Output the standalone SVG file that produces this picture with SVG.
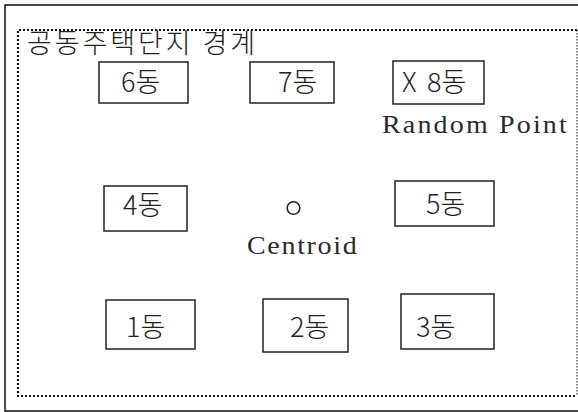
<svg xmlns="http://www.w3.org/2000/svg" width="578" height="412" viewBox="0 0 578 412">
  <style>
    .box { fill: #ffffff; stroke: #222222; stroke-width: 1.5; }
    .lbl { font-family: "Noto Sans CJK KR", "Noto Sans", sans-serif; font-size: 27px; font-weight: 300; fill: #222222; }
    .lat { font-family: "Liberation Serif", "Noto Sans CJK KR", serif; font-size: 25px; fill: #2a2a2a; }
    .frame { fill: none; stroke: #111111; stroke-width: 1.5; }
    .dot { fill: none; stroke: #111111; stroke-width: 2.2; stroke-dasharray: 2 2; }
  </style>
  <rect x="0" y="0" width="578" height="412" fill="#ffffff"/>
  <g id="frame">
    <path class="frame" d="M578,5 H5 V411 H578"/>
  </g>
  <g id="boundary">
    <path class="dot" d="M577,30 H18 V396 H577"/>
    <line x1="577" y1="30" x2="577" y2="396" stroke="#111111" stroke-width="1" stroke-dasharray="1.5 1.5"/>
    <text class="lbl" x="27" y="53" textLength="228" lengthAdjust="spacing">공동주택단지 경계</text>
  </g>
  <g id="b6">
    <rect class="box" x="99" y="62" width="89" height="41"/>
    <text class="lbl" x="121" y="92">6동</text>
  </g>
  <g id="b7">
    <rect class="box" x="250" y="62" width="84" height="41"/>
    <text class="lbl" x="278" y="92">7동</text>
  </g>
  <g id="b8">
    <rect class="box" x="393" y="61" width="91" height="43"/>
    <text class="lbl" y="92"><tspan x="402">X</tspan><tspan x="427">8동</tspan></text>
  </g>
  <g id="randompoint" transform="translate(382,133) scale(1.12,1)">
    <text class="lat" x="0" y="0" textLength="165" lengthAdjust="spacing">Random Point</text>
  </g>
  <g id="b4">
    <rect class="box" x="104" y="186" width="83" height="45"/>
    <text class="lbl" x="123" y="215">4동</text>
  </g>
  <g id="centroid">
    <circle cx="293.5" cy="208" r="6.3" fill="none" stroke="#222222" stroke-width="1.6"/>
    <g transform="translate(247,254) scale(1.12,1)">
      <text class="lat" x="0" y="0" textLength="98" lengthAdjust="spacing">Centroid</text>
    </g>
  </g>
  <g id="b5">
    <rect class="box" x="395" y="181" width="99" height="45"/>
    <text class="lbl" x="426" y="214">5동</text>
  </g>
  <g id="b1">
    <rect class="box" x="106" y="300" width="89" height="49"/>
    <text class="lbl" x="126" y="337">1동</text>
  </g>
  <g id="b2">
    <rect class="box" x="263" y="299" width="85" height="53"/>
    <text class="lbl" x="290" y="337">2동</text>
  </g>
  <g id="b3">
    <rect class="box" x="401" y="294" width="93" height="55"/>
    <text class="lbl" x="416" y="337">3동</text>
  </g>
  <g id="connectors"></g>
</svg>
